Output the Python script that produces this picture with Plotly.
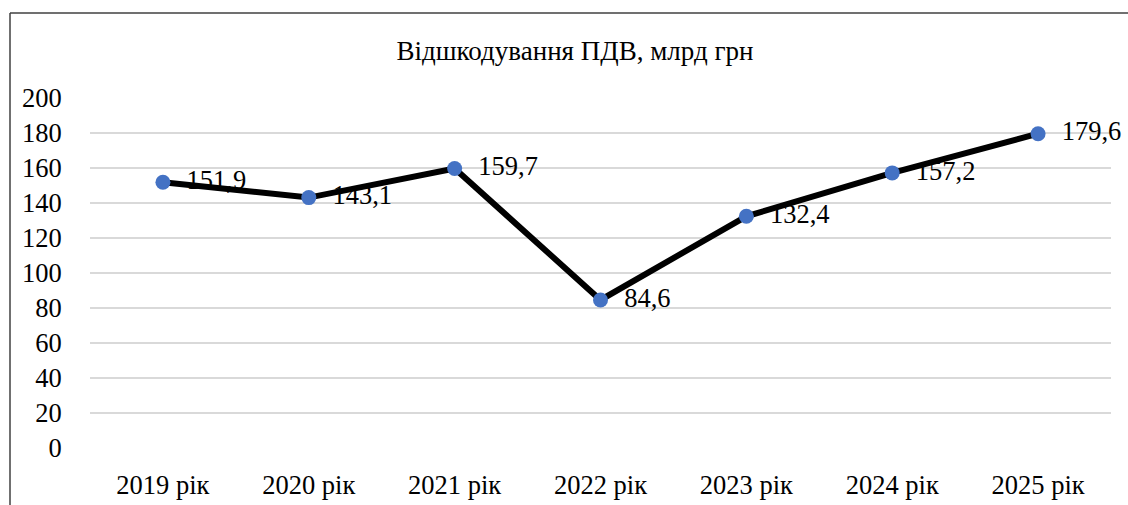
import plotly.graph_objects as go

categories = ["2019 рік", "2020 рік", "2021 рік", "2022 рік", "2023 рік", "2024 рік", "2025 рік"]
values = [151.9, 143.1, 159.7, 84.6, 132.4, 157.2, 179.6]
labels = ["151,9", "143,1", "159,7", "84,6", "132,4", "157,2", "179,6"]
y_ticks = [0, 20, 40, 60, 80, 100, 120, 140, 160, 180, 200]
title_text = "Відшкодування ПДВ, млрд грн"

W, H = 1128, 505
L, R, T, B = 90, 17, 98, 57
pw, ph = W - L - R, H - T - B

FONT = "Liberation Serif"
FS = 26.5

fig = go.Figure()
fig.add_trace(go.Scatter(
    x=categories, y=values,
    mode="lines+markers+text",
    line=dict(color="#000000", width=6),
    marker=dict(color="#4472C4", size=15),
    text=["  " + t for t in labels],
    textposition="middle right",
    textfont=dict(family=FONT, size=FS, color="#000000"),
    cliponaxis=False,
    showlegend=False,
))

def px_x(p):
    return (p - L) / pw

def px_y(p):
    return (H - B - p) / ph

fig.add_shape(type="line", xref="paper", yref="paper",
              x0=px_x(10), x1=px_x(1140), y0=px_y(13), y1=px_y(13),
              line=dict(color="#404040", width=1.5))
fig.add_shape(type="line", xref="paper", yref="paper",
              x0=px_x(10), x1=px_x(10), y0=px_y(13), y1=px_y(520),
              line=dict(color="#404040", width=1.5))

fig.update_layout(
    width=W, height=H,
    margin=dict(l=L, r=R, t=T, b=B, autoexpand=False),
    paper_bgcolor="white", plot_bgcolor="white",
    font=dict(family=FONT, size=FS, color="#000000"),
    title=dict(text=title_text, x=575 / W, xanchor="center", xref="container",
               y=1 - 51 / H, yanchor="middle", yref="container",
               font=dict(family=FONT, size=27, color="#000000")),
    xaxis=dict(type="category", range=[-0.5, 6.5], showgrid=False, zeroline=False,
               showline=False, ticks="outside", ticklen=13, tickcolor="rgba(0,0,0,0)",
               automargin=False,
               tickfont=dict(family=FONT, size=FS, color="#000000")),
    yaxis=dict(range=[0, 200], tickvals=y_ticks, showgrid=True, gridcolor="#d9d9d9",
               gridwidth=2, zeroline=False, showline=False, ticks="outside",
               ticklen=22, tickcolor="rgba(0,0,0,0)", automargin=False,
               tickfont=dict(family=FONT, size=FS, color="#000000")),
)

fig.write_html("out.html", config={"displayModeBar": False},
               post_script="document.body.style.margin='0';document.body.style.overflow='hidden';")
